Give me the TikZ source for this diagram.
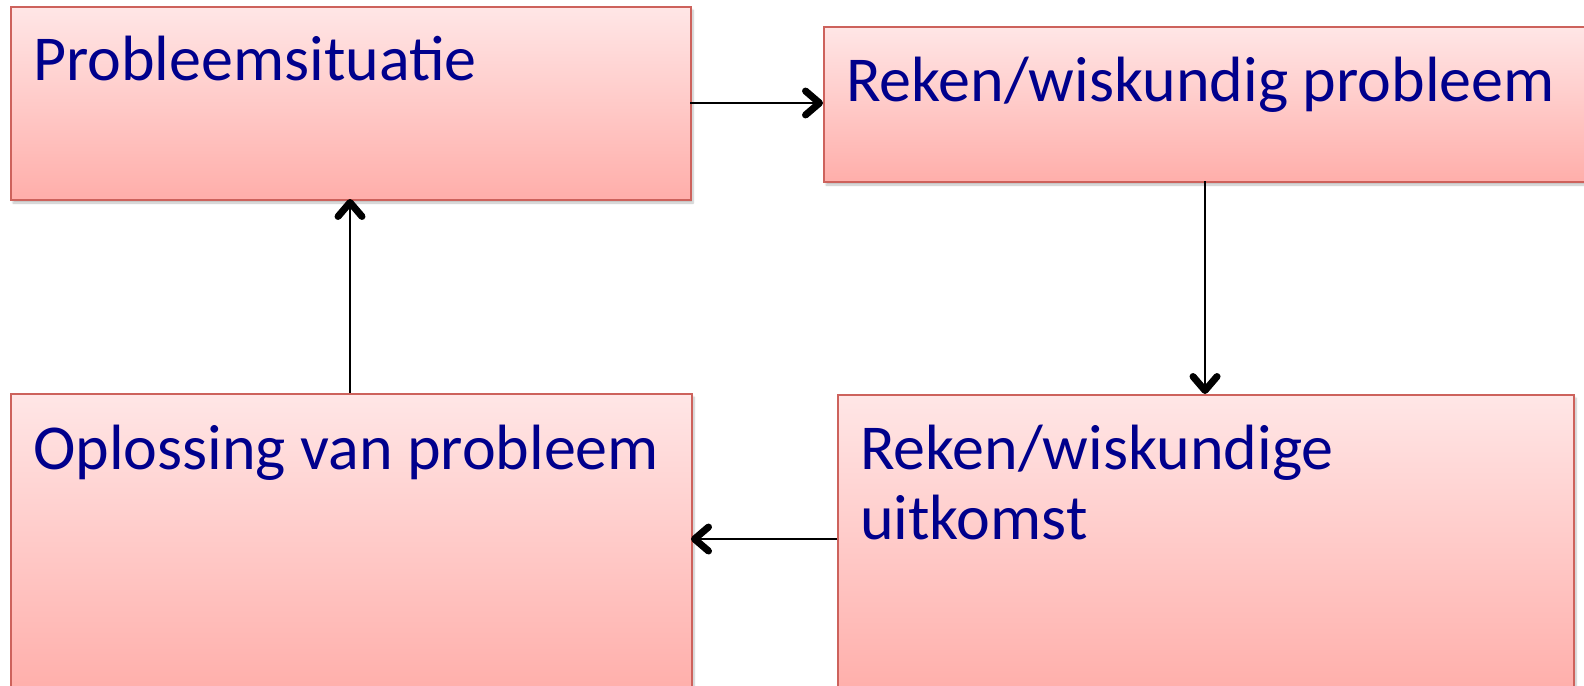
\documentclass[tikz,border=0pt]{standalone}
\usepackage{fontspec}
\setmainfont{Carlito}
\usetikzlibrary{arrows.meta,shadows.blur}
\definecolor{boxtop}{RGB}{255,230,230}
\definecolor{boxbot}{RGB}{255,174,170}
\definecolor{boxline}{RGB}{205,98,92}
\definecolor{labelblue}{RGB}{0,0,140}
\tikzset{
  x=1pt, y=-1pt,
  stage/.style={draw=boxline, line width=2pt, top color=boxtop, bottom color=boxbot,
    rectangle, inner sep=0pt, anchor=north west,
    blur shadow={shadow xshift=2pt, shadow yshift=-3pt, shadow opacity=25, shadow blur steps=6}},
  caption/.style={anchor=base west, inner sep=0pt, text=labelblue, align=left,
    font=\fontsize{64}{70}\selectfont},
  flow/.style={line width=2pt,
    arrows={-Straight Barb[length=14pt, width=24pt, line width=7pt 0 1, round]}}
}
\begin{document}
\begin{tikzpicture}
\useasboundingbox (0,0) rectangle (1584,685);
\clip (0,0) rectangle (1584,685);
% the four stages of the cycle
\node[stage, minimum width=680pt, minimum height=193pt] (sit) at (10,6) {};
\node[stage, minimum width=790pt, minimum height=155pt] (math) at (823,26) {};
\node[stage, minimum width=681pt, minimum height=300pt] (sol) at (10,393) {};
\node[stage, minimum width=736pt, minimum height=300pt] (out) at (837,394) {};
% captions
\node[caption] (tsit) at (33,81) {Probleemsituatie};
\node[caption] (tmath) at (846,101) {Reken/wiskundig probleem};
\node[caption] (tsol) at (33,469) {Oplossing van probleem};
\node[caption] (tout) at (860,539) {Reken/wiskundige\\uitkomst};
% connectors
\coordinate (a1) at (690,103);
\coordinate (a2) at (823,103);
\draw[flow] (a1) -- (a2);
\coordinate (b1) at (1205,181);
\coordinate (b2) at (1205,394);
\draw[flow] (b1) -- (b2);
\coordinate (c1) at (837,539);
\coordinate (c2) at (691,539);
\draw[flow] (c1) -- (c2);
\coordinate (d1) at (350,393);
\coordinate (d2) at (350,199);
\draw[flow] (d1) -- (d2);
\end{tikzpicture}
\end{document}
